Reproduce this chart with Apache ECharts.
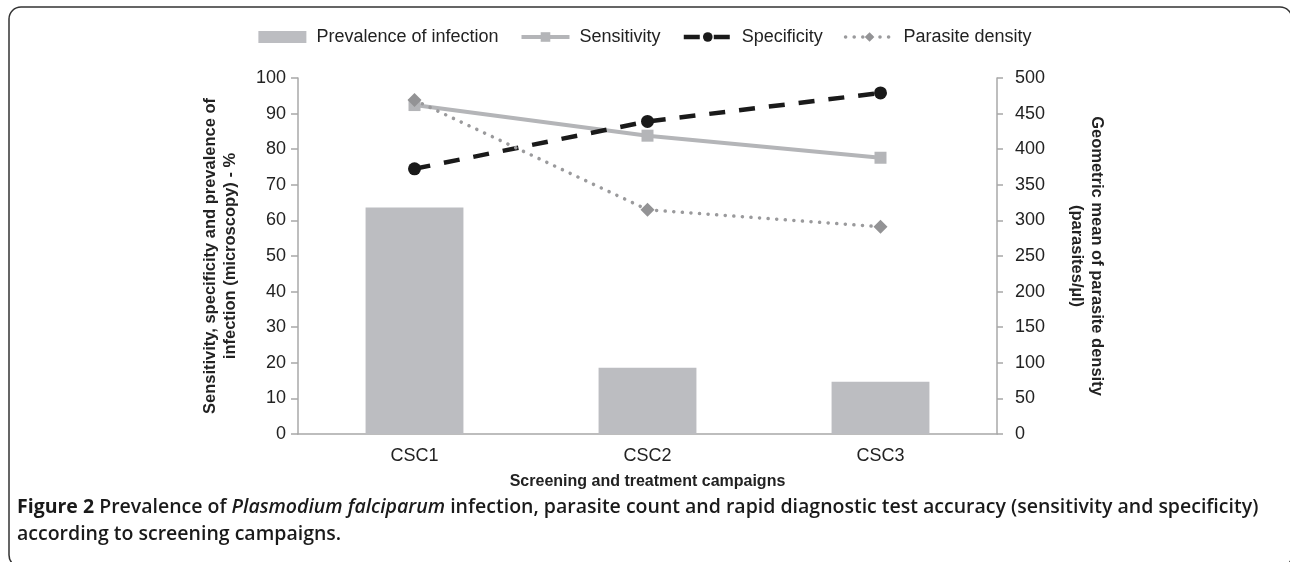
<!DOCTYPE html>
<html>
<head>
<meta charset="utf-8">
<script src="https://cdn.jsdelivr.net/npm/echarts@6/dist/echarts.min.js"></script>
<style>
  html, body { margin: 0; padding: 0; background: #fff; }
  #main { width: 1290px; height: 562px; }
</style>
</head>
<body>
<div id="main"></div>
<script>
var categories = ['CSC1', 'CSC2', 'CSC3'];
var prevalence = [63.6, 18.6, 14.7];
var sensitivity = [92.4, 83.8, 77.6];
var specificity = [74.5, 87.8, 95.8];
var parasiteDensity = [469, 315, 291];

var leftTicks = { min: 0, max: 100, interval: 10 };
var rightTicks = { min: 0, max: 500, interval: 50 };

var font = 'Liberation Sans, Arial, sans-serif';
var axisGray = '#a8a8a8';

var myChart = echarts.init(document.getElementById('main'));

var option = {
  backgroundColor: '#fff',
  animation: false,
  textStyle: { fontFamily: font },
  legend: {
    top: 23,
    left: 'center',
    itemWidth: 48,
    itemHeight: 12,
    itemGap: 21,
    textStyle: { fontSize: 18, color: '#222', fontFamily: font, padding: [0, 0, 0, 5] },
    data: [
      { name: 'Prevalence of infection', icon: 'rect' },
      { name: 'Sensitivity', lineStyle: { width: 4 } },
      { name: 'Specificity', lineStyle: { width: 4.5 } },
      { name: 'Parasite density', lineStyle: { width: 3.5 } }
    ]
  },
  grid: { left: 298, right: 293, top: 78, bottom: 128 },
  xAxis: {
    type: 'category',
    data: categories,
    name: 'Screening and treatment campaigns',
    nameLocation: 'middle',
    nameGap: 40,
    nameTextStyle: { fontSize: 16, fontWeight: 'bold', color: '#222', fontFamily: font },
    axisLine: { lineStyle: { color: axisGray, width: 1.5 } },
    axisTick: { length: 6, lineStyle: { color: axisGray, width: 1.5 } },
    axisLabel: { fontSize: 18, color: '#222', margin: 13, fontFamily: font }
  },
  yAxis: [{
    type: 'value',
    min: leftTicks.min,
    max: leftTicks.max,
    interval: leftTicks.interval,
    name: 'Sensitivity, specificity and prevalence of\ninfection (microscopy) - %',
    nameLocation: 'middle',
    nameRotate: 90,
    nameGap: 58,
    nameTextStyle: { fontSize: 16.5, fontWeight: 'bold', color: '#222', lineHeight: 20, fontFamily: font },
    splitLine: { show: false },
    axisLine: { show: true, lineStyle: { color: axisGray, width: 1.5 } },
    axisTick: { show: true, length: 7, lineStyle: { color: axisGray, width: 1.5 } },
    axisLabel: { fontSize: 18, color: '#222', margin: 12, fontFamily: font }
  }, {
    type: 'value',
    position: 'right',
    min: rightTicks.min,
    max: rightTicks.max,
    interval: rightTicks.interval,
    name: 'Geometric mean of parasite density\n(parasites/µl)',
    nameLocation: 'middle',
    nameRotate: -90,
    nameGap: 70,
    nameTextStyle: { fontSize: 16.5, fontWeight: 'bold', color: '#222', lineHeight: 20, fontFamily: font },
    splitLine: { show: false },
    axisLine: { show: true, lineStyle: { color: axisGray, width: 1.5 } },
    axisTick: { show: true, length: 6, lineStyle: { color: axisGray, width: 1.5 } },
    axisLabel: { fontSize: 18, color: '#222', margin: 18, fontFamily: font }
  }],
  series: [{
    name: 'Prevalence of infection',
    type: 'bar',
    data: prevalence,
    barWidth: '42%',
    itemStyle: { color: '#bcbdc1' }
  }, {
    name: 'Sensitivity',
    type: 'line',
    data: sensitivity,
    symbol: 'rect',
    symbolSize: 12,
    lineStyle: { color: '#b4b5b8', width: 4 },
    itemStyle: { color: '#b4b5b8' }
  }, {
    name: 'Specificity',
    type: 'line',
    data: specificity,
    symbol: 'circle',
    symbolSize: 13,
    lineStyle: { color: '#1a1a1a', width: 4.5, type: [16, 14] },
    itemStyle: { color: '#1a1a1a' }
  }, {
    name: 'Parasite density',
    type: 'line',
    yAxisIndex: 1,
    data: parasiteDensity,
    symbol: 'diamond',
    symbolSize: 14,
    lineStyle: { color: '#9a9a9c', width: 3.5, type: [0.1, 8.5], cap: 'round' },
    itemStyle: { color: '#939395' }
  }],
  graphic: [{
    type: 'rect',
    shape: { x: 9, y: 7, width: 1283, height: 560, r: 12 },
    style: { fill: 'none', stroke: '#333', lineWidth: 1.5 },
    silent: true
  }, {
    type: 'text',
    left: 17,
    top: 494,
    style: {
      text: '{b|Figure 2} Prevalence of {i|Plasmodium falciparum} infection, parasite count and rapid diagnostic test accuracy (sensitivity and specificity)\naccording to screening campaigns.',
      fontFamily: 'Open Sans',
      fontSize: 19.5,
      fontWeight: 600,
      fill: '#1a1a1a',
      lineHeight: 27,
      rich: {
        b: { fontFamily: 'Open Sans', fontSize: 19.5, fontWeight: 'bold', fill: '#1a1a1a' },
        i: { fontFamily: 'Open Sans', fontSize: 19.5, fontWeight: 600, fontStyle: 'italic', fill: '#1a1a1a' }
      }
    }
  }]
};

myChart.setOption(option);
</script>
</body>
</html>
